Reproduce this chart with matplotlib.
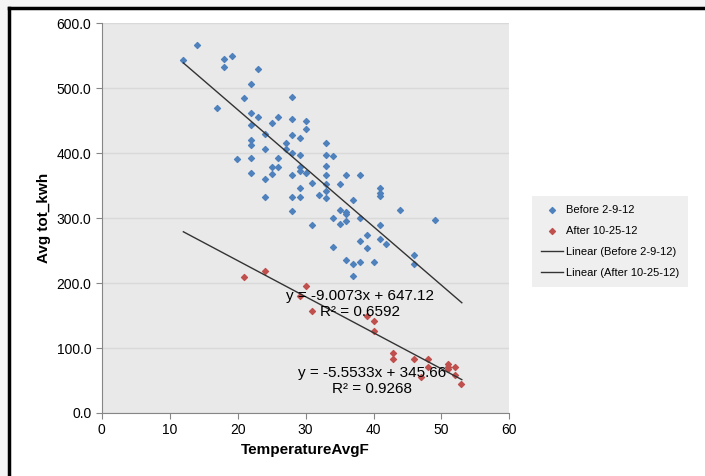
import numpy as np
import matplotlib
matplotlib.use("Agg")
import matplotlib.pyplot as plt
from matplotlib.lines import Line2D
from matplotlib.patches import Rectangle

plt.rcParams['font.family'] = ['Liberation Sans', 'DejaVu Sans']

# Before 2-9-12 (blue)
before_temp = [12.0, 14.0, 18.0, 19.1, 18.0, 23.0, 22.0, 20.9, 17.0, 22.0,
               23.0, 26.0, 25.0, 22.0, 28.0, 28.0, 30.1, 30.1, 24.0, 28.0,
               27.1, 27.1, 29.1, 22.0, 22.0, 24.0, 28.0, 29.1, 19.9, 22.0,
               26.0, 25.0, 26.0, 29.1, 29.1, 22.0, 25.0, 28.0, 30.1, 24.0,
               29.1, 24.0, 28.0, 29.1, 28.0,
               33.0, 33.0, 34.0, 33.0, 33.0, 36.0, 38.0, 30.9, 33.0, 35.0,
               33.0, 31.9, 33.0, 37.0, 35.0, 36.0, 36.0, 34.0, 38.0, 30.9,
               35.0, 36.0, 39.0, 38.0, 34.0, 39.0, 41.0, 41.0, 41.0, 43.9,
               41.0, 49.0, 41.0, 41.9, 46.0, 46.0, 36.0, 38.0, 37.0, 40.0,
               37.0]
before_kwh = [543, 566, 545, 549, 533, 529, 506, 485, 470, 462,
              455, 456, 446, 444, 487, 453, 450, 437, 430, 428,
              416, 407, 423, 420, 412, 407, 400, 398, 391, 393,
              393, 378, 379, 379, 373, 370, 368, 367, 370, 360,
              347, 333, 333, 333, 311,
              416, 398, 396, 381, 367, 367, 367, 354, 353, 353,
              342, 335, 331, 328, 312, 310, 306, 301, 301, 289,
              291, 296, 274, 265, 255, 254, 347, 338, 334, 313,
              289, 297, 268, 260, 244, 230, 236, 233, 229, 233,
              211]

# After 10-25-12 (red)
after_temp = [21.0, 24.0, 30.1, 29.1, 30.9, 39.0, 40.0, 40.0, 42.9, 42.9,
              46.0, 48.0, 48.0, 47.0, 51.0, 51.0, 51.0, 52.0, 52.0, 52.9]
after_kwh = [209, 218, 195, 180, 157, 149, 142, 127, 92, 83,
             83, 83, 71, 56, 75, 71, 68, 71, 58, 44]

# Excel linear trendlines
fit_before = (-9.0073, 647.12, 0.6592)
fit_after = (-5.5533, 345.66, 0.9268)
fit_x = np.array([12.0, 53.0])

blue = '#4F81BD'
red = '#C0504D'

fig = plt.figure(figsize=(7.05, 4.76), dpi=100)
fig.patch.set_facecolor('white')

# screenshot frame
fig.patches.append(Rectangle((0, 1 - 8 / 476), 1, 8 / 476, transform=fig.transFigure,
                             facecolor='#f5f5f5', edgecolor='none', zorder=0))
fig.patches.append(Rectangle((0, 0), 9 / 705, 1, transform=fig.transFigure,
                             facecolor='#f5f5f5', edgecolor='none', zorder=0))
fig.add_artist(Line2D([9 / 705, 1], [1 - 8 / 476, 1 - 8 / 476], transform=fig.transFigure,
                      color='black', lw=2.5))
fig.add_artist(Line2D([9 / 705, 9 / 705], [0, 1 - 8 / 476], transform=fig.transFigure,
                      color='black', lw=2.5))

ax = fig.add_axes([0.1445, 0.1324, 0.578, 0.8186])
ax.set_facecolor('#e9e9e9')

ax.scatter(before_temp, before_kwh, marker='D', s=9, color=blue, zorder=3,
           label='Before 2-9-12')
ax.scatter(after_temp, after_kwh, marker='D', s=9, color=red, zorder=3,
           label='After 10-25-12')
ax.plot(fit_x, fit_before[0] * fit_x + fit_before[1], color='#333333', lw=1,
        zorder=4, label='Linear (Before 2-9-12)')
ax.plot(fit_x, fit_after[0] * fit_x + fit_after[1], color='#333333', lw=1,
        zorder=4, label='Linear (After 10-25-12)')

ax.text(38.0, 180, f"y = {fit_before[0]:.4f}x + {fit_before[1]:.2f}", ha='center',
        va='center', fontsize=11, zorder=5)
ax.text(38.0, 155, f"R² = {fit_before[2]:.4f}", ha='center', va='center',
        fontsize=11, zorder=5)
ax.text(39.8, 62, f"y = {fit_after[0]:.4f}x + {fit_after[1]:.2f}", ha='center',
        va='center', fontsize=11, zorder=5)
ax.text(39.8, 37, f"R² = {fit_after[2]:.4f}", ha='center', va='center',
        fontsize=11, zorder=5)

ax.set_xlim(0, 60)
ax.set_ylim(0, 600)
ax.set_xticks(range(0, 61, 10))
ax.set_yticks(range(0, 601, 100))
ax.set_yticklabels([f"{v:.1f}" for v in range(0, 601, 100)])
ax.tick_params(labelsize=10, length=4, color='#868686')
ax.grid(axis='y', color='#d9d9d9', lw=1)
ax.set_axisbelow(True)
for s in ['top', 'right']:
    ax.spines[s].set_visible(False)
for s in ['left', 'bottom']:
    ax.spines[s].set_color('#868686')

ax.set_xlabel('TemperatureAvgF', fontsize=11, fontweight='bold')
ax.set_ylabel('Avg tot_kwh', fontsize=11, fontweight='bold')

leg = fig.legend(loc='upper left', bbox_to_anchor=(0.755, 0.588), fontsize=8,
                 frameon=True, fancybox=False, handlelength=2.0, labelspacing=1.0,
                 borderpad=0.8, handletextpad=0.2, borderaxespad=0)
leg.get_frame().set_facecolor('#ebebeb')
leg.get_frame().set_edgecolor('none')

fig.savefig('out.png', dpi=100)
